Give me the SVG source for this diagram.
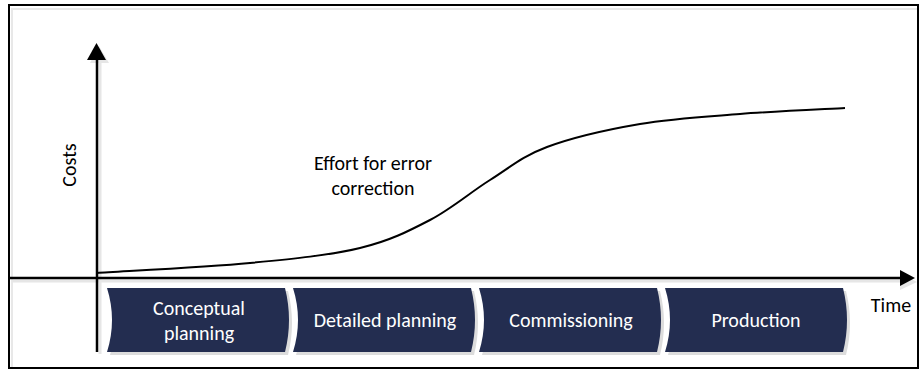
<svg xmlns="http://www.w3.org/2000/svg" width="920" height="369" viewBox="0 0 920 369">
<style>
.frame{fill:#fff;stroke:#000;stroke-width:2}
.axis{stroke:#000;stroke-width:2.5;fill:none}
.axs{stroke:#e6e6e6;stroke-width:3;fill:none}
.curve{stroke:#000;stroke-width:2;fill:none}
.chev{fill:#232d50}
.chs{fill:#dcdcdc}
.wt{font-family:Calibri,Carlito,"Open Sans","Liberation Sans",sans-serif;font-size:20px;fill:#fff;text-anchor:middle}
.bt{font-family:Calibri,Carlito,"Open Sans","Liberation Sans",sans-serif;font-size:20px;fill:#000;text-anchor:middle}
</style>
<rect class="frame" x="9" y="5" width="909" height="363"/>
<rect x="11" y="8" width="906" height="2" fill="#e8e8e8"/>
<rect x="11" y="8" width="2" height="359" fill="#e8e8e8"/>
<g id="axes">
<line class="axs" x1="100" y1="62" x2="100" y2="354"/>
<line class="axs" x1="12" y1="281" x2="900" y2="281"/>
<polygon points="90,63 109,63 99,46" fill="#e6e6e6"/>
<polygon points="900,273 900,290 917,282" fill="#e6e6e6"/>
<line class="axis" x1="97" y1="58" x2="97" y2="352"/>
<polygon points="87,60 106,60 96.5,43"/>
<line class="axis" x1="10" y1="278" x2="902" y2="278"/>
<polygon points="900,270 900,286 915,278"/>
</g>
<g id="curve">
<path class="curve" d="M97,273 C122.5,271.3 206.2,267.2 250,263 C293.8,258.8 330,255.2 360,248 C390,240.8 408.3,231.3 430,220 C451.7,208.7 470.5,192.2 490,180 C509.5,167.8 522,156.3 547,147 C572,137.7 607.8,129.5 640,124 C672.2,118.5 705.8,116.7 740,114 C774.2,111.3 827.5,109 845,108"/>
</g>
<g id="n1">
<path class="chs" d="M110,291 L288,291 Q296,323 288,355 L110,355 Q120,323 110,291 Z"/>
<path class="chev" d="M107,288 L285,288 Q293,320 285,352 L107,352 Q117,320 107,288 Z"/>
<text class="wt" x="199" y="315">Conceptual</text>
<text class="wt" x="199" y="340">planning</text>
</g>
<g id="n2">
<path class="chs" d="M296,291 L474,291 Q482,323 474,355 L296,355 Q306,323 296,291 Z"/>
<path class="chev" d="M293,288 L471,288 Q479,320 471,352 L293,352 Q303,320 293,288 Z"/>
<text class="wt" x="385" y="327">Detailed planning</text>
</g>
<g id="n3">
<path class="chs" d="M482,291 L660,291 Q668,323 660,355 L482,355 Q492,323 482,291 Z"/>
<path class="chev" d="M479,288 L657,288 Q665,320 657,352 L479,352 Q489,320 479,288 Z"/>
<text class="wt" x="571" y="327">Commissioning</text>
</g>
<g id="n4">
<path class="chs" d="M668,291 L846,291 Q854,323 846,355 L668,355 Q678,323 668,291 Z"/>
<path class="chev" d="M665,288 L843,288 Q851,320 843,352 L665,352 Q675,320 665,288 Z"/>
<text class="wt" x="756" y="327">Production</text>
</g>
<g id="labels">
<text class="bt" x="891" y="312">Time</text>
<text class="bt" transform="translate(76,165) rotate(-90)">Costs</text>
<text class="bt" x="373" y="170">Effort for error</text>
<text class="bt" x="373" y="195">correction</text>
</g>
</svg>
